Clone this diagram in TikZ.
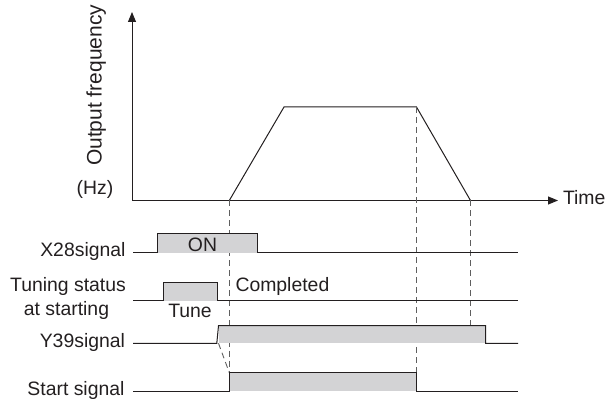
\documentclass[tikz,border=0pt]{standalone}
\usepackage{fontspec}
\setmainfont{Liberation Sans}
\usetikzlibrary{arrows.meta}
\definecolor{pulsegray}{RGB}{211,211,213}
\definecolor{guidegray}{RGB}{95,95,95}
\definecolor{inkgray}{RGB}{35,31,32}
\begin{document}
\begin{tikzpicture}[x=1pt, y=-1pt, line width=1pt, every node/.style={font=\fontsize{19.4}{23}\selectfont, inner sep=0pt, text=inkgray}]
\useasboundingbox (0,0) rectangle (606,401);
% Frequency axes and the speed profile
\draw[inkgray, -{Triangle[length=10pt, width=8pt]}] (132,200.5) -- (132,12);
\draw[inkgray, -{Triangle[length=10pt, width=8pt]}] (132,200.5) -- (558,200.5);
\node[rotate=90, anchor=base west, font=\fontsize{21}{24}\selectfont] (freqlabel) at (101.5,166.5) {Output frequency};
\node[anchor=base] (hzlabel) at (95,195) {(Hz)};
\node[anchor=base west] (timelabel) at (562.5,205) {Time};
\draw[inkgray] (229.3,200.5) -- (284,107) -- (416.5,107) -- (470.5,200.5);
% Dashed guides down through the signals
\foreach \x/\a/\b in {229.3/200.5/372.7, 416.5/107/391.3, 470.5/200.5/343.3}
  \draw[guidegray, dash pattern=on 6pt off 4pt, line width=0.9pt] (\x,\a) -- (\x,\b);
\draw[guidegray, dash pattern=on 6pt off 4pt, line width=0.9pt] (218.5,343.3) -- (229.3,372.7);
% Gray pulses
\fill[pulsegray] (157,234) rectangle (257,252.7);
\fill[pulsegray] (163,282.7) rectangle (217,300.7);
\fill[pulsegray] (218.5,325.7) rectangle (485.7,343.3);
\fill[pulsegray] (229.3,372.7) rectangle (416.3,391.3);
% Signal traces
\draw[inkgray] (133,252.7) -- (157,252.7) -- (157,234) -- (257,234) -- (257,252.7) -- (518,252.7);
\draw[inkgray] (133,300.7) -- (163,300.7) -- (163,282.7) -- (217,282.7) -- (217,300.7) -- (518,300.7);
\draw[inkgray] (133,343.3) -- (216.8,343.3) -- (218.5,325.7) -- (485.7,325.7) -- (485.7,343.3) -- (518,343.3);
\draw[inkgray] (133,391.3) -- (229.3,391.3) -- (229.3,372.7) -- (416.3,372.7) -- (416.3,391.3) -- (518,391.3);
% Signal names and states
\node[anchor=base east] (xsig) at (126,256.7) {X28signal};
\node[anchor=base] (tunesig) at (68,291.7) {Tuning status};
\node[anchor=base] (tunesigb) at (66.5,316) {at starting};
\node[anchor=base east] (ysig) at (125.5,348) {Y39signal};
\node[anchor=base east] (startsig) at (125,395.7) {Start signal};
\node[anchor=base] (onlabel) at (202.5,251.7) {ON};
\node[anchor=base] (tunelabel) at (190,318) {Tune};
\node[anchor=base west] (donelabel) at (235,291.7) {Completed};
\end{tikzpicture}
\end{document}
